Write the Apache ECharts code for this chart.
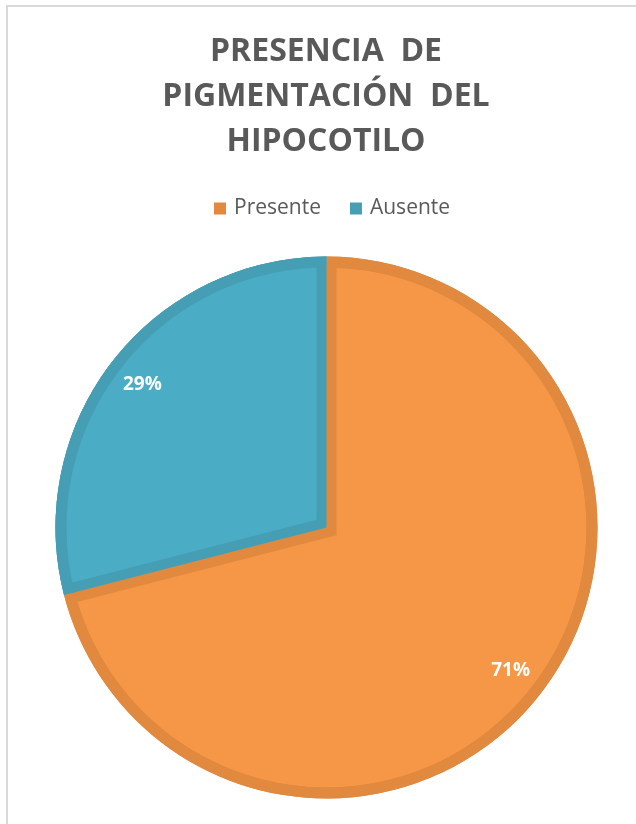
<!DOCTYPE html>
<html>
<head>
<meta charset="utf-8">
<title>Presencia de pigmentación del hipocotilo</title>
<script src="https://cdn.jsdelivr.net/npm/echarts@6/dist/echarts.min.js"></script>
<style>
  html, body { margin: 0; padding: 0; background: #ffffff; overflow: hidden; }
  #frame {
    position: absolute; left: 6px; top: 5px; width: 700px; height: 900px;
    border-left: 2px solid #d9d9d9; border-top: 2px solid #d9d9d9;
    z-index: 0;
  }
  #chart { position: absolute; left: 0; top: 0; width: 636px; height: 824px; z-index: 1; }
</style>
</head>
<body>
<div id="frame"></div>
<div id="chart"></div>
<script>
// Categories and values
const categories = ['Presente', 'Ausente'];
const values = [71, 29];

// Fill colours (face) and edge colours (bevel) per category
const faceColors = ['#f59747', '#4bacc6'];
const edgeColors = ['#e0893f', '#469eb5'];

const chart = echarts.init(document.getElementById('chart'));

const cx = 326.5, cy = 527.5;   // pie centre
const R = 271;                  // outer radius
const rimWidth = 11;            // bevel width along the rim
const seamWidth = 10;           // bevel width along the radial edges
const startAngle = 90;

// Geometry of the "Ausente" wedge, derived from the values
const total = values.reduce((a, b) => a + b, 0);
const spanFirst = 360 * values[0] / total;
const spanSecond = 360 * values[1] / total;
const midSecond = (startAngle - spanFirst - spanSecond / 2) * Math.PI / 180;
const ux = Math.cos(midSecond), uy = -Math.sin(midSecond);
const halfSecond = (spanSecond / 2) * Math.PI / 180;
const shift = seamWidth / Math.sin(halfSecond);

const clear = 'rgba(0,0,0,0)';

function items(colorsByIndex) {
  return categories.map((name, i) => ({
    name: name,
    value: values[i],
    itemStyle: { color: colorsByIndex[i] }
  }));
}

function layer(center, radius, colorsByIndex, extra) {
  return Object.assign({
    type: 'pie',
    center: center,
    radius: radius,
    startAngle: startAngle,
    clockwise: true,
    silent: true,
    legendHoverLink: false,
    label: { show: false },
    labelLine: { show: false },
    itemStyle: { borderWidth: 0 },
    emphasis: { disabled: true },
    data: items(colorsByIndex)
  }, extra || {});
}

const option = {
  animation: false,
  title: {
    text: 'PRESENCIA  DE\nPIGMENTACIÓN  DEL\nHIPOCOTILO',
    left: 326,
    top: 29,
    padding: 0,
    textAlign: 'center',
    textStyle: {
      fontFamily: 'Open Sans',
      fontWeight: 'bold',
      fontSize: 32,
      lineHeight: 45,
      color: '#595959'
    }
  },
  legend: {
    data: categories,
    top: 198,
    left: 214,
    padding: 0,
    icon: 'rect',
    itemWidth: 12,
    itemHeight: 12,
    itemGap: 29,
    selectedMode: false,
    textStyle: {
      fontFamily: 'Open Sans',
      fontSize: 21,
      color: '#595959',
      padding: [0, 0, 0, 3]
    }
  },
  series: [
    // base: full disc in edge colours
    layer([cx, cy], [0, R], edgeColors),
    // face of the first slice, inset from the rim
    layer([cx, cy], [0, R - rimWidth], [faceColors[0], clear]),
    // edge band of the first slice along its radial edges
    layer([cx - shift * ux, cy - shift * uy], [0, R], [clear, edgeColors[0]]),
    // restore the second slice in its edge colour
    layer([cx, cy], [0, R], [clear, edgeColors[1]]),
    // face of the second slice, inset from both radial edges
    layer([cx + shift * ux, cy + shift * uy], [0, R - 13], [clear, faceColors[1]]),
    // rim band
    layer([cx, cy], [R - rimWidth, R], edgeColors),
    // percentage labels
    layer([cx, cy], [210, 250], [clear, clear], {
      label: {
        show: true,
        position: 'inside',
        formatter: '{c}%',
        fontFamily: 'Open Sans',
        fontWeight: 'bold',
        fontSize: 19,
        color: '#ffffff'
      }
    })
  ]
};

chart.setOption(option);
</script>
</body>
</html>
